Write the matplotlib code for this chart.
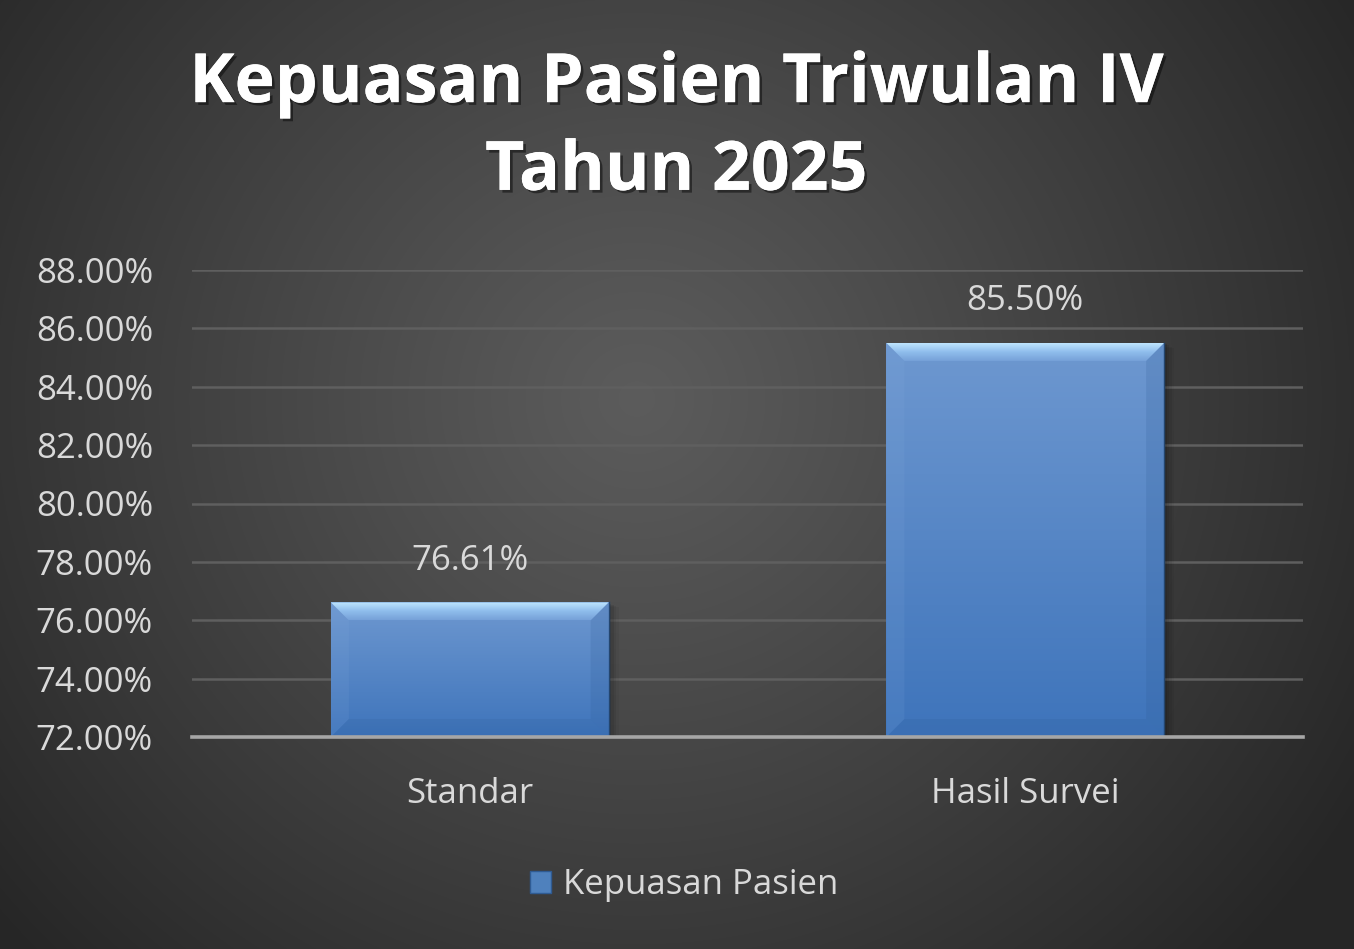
import numpy as np
import matplotlib
matplotlib.use("Agg")
import matplotlib.pyplot as plt
from matplotlib.patches import Polygon, Patch
from matplotlib.colors import LinearSegmentedColormap
import matplotlib.patheffects as pe

# ---- data ----
categories = ["Standar", "Hasil Survei"]
values = [76.61, 85.50]
series_name = "Kepuasan Pasien"
title = "Kepuasan Pasien Triwulan IV\nTahun 2025"
y_min, y_max, y_step = 72.0, 88.0, 2.0

FONT = "Open Sans"
TXT = "#d9d9d9"

W, H, DPI = 1354, 949, 100
fig = plt.figure(figsize=(W / DPI, H / DPI), dpi=DPI)

# ---- radial gradient background ----
bg = fig.add_axes([0, 0, 1, 1], zorder=-10)
bg.set_axis_off()
yy, xx = np.mgrid[0:H, 0:W]
cx, cy = 0.47 * W, 0.42 * H
r = np.sqrt(((xx - cx) / (0.62 * W)) ** 2 + ((yy - cy) / (0.85 * H)) ** 2)
r = np.clip(r, 0, 1)
c_in, c_out = 0.36, 0.15
g = c_in + (c_out - c_in) * r ** 1.1
bg.imshow(np.dstack([g, g, g]), extent=(0, 1, 0, 1), aspect="auto", origin="upper")
bg.set_xlim(0, 1); bg.set_ylim(0, 1)

# ---- main axes ----
ax = fig.add_axes([192 / W, 1 - 737 / H, (1303 - 192) / W, (737 - 270) / H])
ax.set_facecolor("none")
x = np.arange(len(categories))
bars = ax.bar(x, values, width=0.5, bottom=0, color="#4f81bd", zorder=3, linewidth=0)
ax.set_xlim(-0.5, len(categories) - 0.5)
ax.set_ylim(y_min, y_max)
yt = np.arange(y_min, y_max + 0.001, y_step)
ax.set_yticks(yt)
ax.set_yticklabels([f"{v:.2f}%" for v in yt], fontsize=25, color=TXT, family=FONT)
ax.set_xticks(x)
ax.set_xticklabels(categories, fontsize=25, color=TXT, family=FONT)
ax.tick_params(axis="both", length=0)
ax.tick_params(axis="y", pad=28)
ax.tick_params(axis="x", pad=29)
for s in ["top", "right", "left"]:
    ax.spines[s].set_visible(False)
ax.spines["bottom"].set_color("#a6a6a6")
ax.spines["bottom"].set_linewidth(2.6)
ax.spines["bottom"].set_zorder(6)
ax.yaxis.grid(True, color="#5f5f5f", linewidth=1.8, zorder=0)
ax.set_axisbelow(True)

# ---- bevel/gradient styling of bars ----
fig.canvas.draw()
ppx = ax.transData.transform((1, 0))[0] - ax.transData.transform((0, 0))[0]
ppy = ax.transData.transform((0, 1))[1] - ax.transData.transform((0, 0))[1]
bev = 18
bdx, bdy = bev / ppx, bev / ppy
top_c, bot_c = "#6e98d0", "#3e74bb"
cmap_body = LinearSegmentedColormap.from_list("body", [bot_c, top_c])
cmap_top = LinearSegmentedColormap.from_list("topb", ["#76a1d8", "#8fbdec", "#bfe6ff"])
for b in bars:
    x0, y0 = b.get_x(), y_min
    x1, y1 = x0 + b.get_width(), b.get_height()
    b.set_y(y_min); b.set_height(y1 - y_min)
    # drop shadow
    for k, a in enumerate([0.10, 0.08, 0.06, 0.04]):
        off = (k + 1) * 2.5 / ppx
        ax.add_patch(plt.Rectangle((x0 + off, y0), x1 - x0, (y1 - y0) - 0.5 * off * ppx / ppy,
                                   facecolor="black", alpha=a, lw=0, zorder=2))
    grad = np.linspace(0, 1, 256).reshape(-1, 1)
    im = ax.imshow(grad, extent=(x0, x1, y0, y1), aspect="auto", origin="lower",
                   cmap=cmap_body, zorder=3.5)
    im.set_clip_path(b)
    # top bevel with gradient
    topb = Polygon([(x0, y1), (x1, y1), (x1 - bdx, y1 - bdy), (x0 + bdx, y1 - bdy)],
                   closed=True, facecolor="none", lw=0, zorder=4)
    ax.add_patch(topb)
    im2 = ax.imshow(grad, extent=(x0, x1, y1 - bdy, y1), aspect="auto", origin="lower",
                    cmap=cmap_top, zorder=4)
    im2.set_clip_path(topb)
    # left bevel
    ax.add_patch(Polygon([(x0, y0), (x0, y1), (x0 + bdx, y1 - bdy), (x0 + bdx, y0 + bdy)],
                         closed=True, facecolor="#8ab0e0", alpha=0.12, lw=0, zorder=4))
    # right bevel
    ax.add_patch(Polygon([(x1, y0), (x1, y1), (x1 - bdx, y1 - bdy), (x1 - bdx, y0 + bdy)],
                         closed=True, facecolor="#2d5a94", alpha=0.18, lw=0, zorder=4))
    # bottom bevel
    ax.add_patch(Polygon([(x0, y0), (x1, y0), (x1 - bdx, y0 + bdy), (x0 + bdx, y0 + bdy)],
                         closed=True, facecolor="#2a5790", alpha=0.15, lw=0, zorder=4))
    # edge line
    ax.plot([x1, x1], [y0, y1], color="#24466f", lw=1.0, zorder=4.5)

# data labels
for xi, v in zip(x, values):
    ax.annotate(f"{v:.2f}%", (xi, v), xytext=(0, 30), textcoords="offset points",
                ha="center", va="center", fontsize=25, color=TXT, family=FONT, zorder=7)

# title
fig.text(676 / W, 1 - 128 / H, title, ha="center", va="center", fontsize=49,
         fontweight="bold", color="white", family=FONT, linespacing=1.38,
         path_effects=[pe.withSimplePatchShadow(offset=(2, -2), shadow_rgbFace="black", alpha=0.45),
                       pe.Normal()])

# legend
handle = Patch(facecolor="#4f81bd", edgecolor="#2f5b93", linewidth=1.0)
leg = fig.legend([handle], [series_name], loc="center", bbox_to_anchor=(684 / W, 1 - 885 / H),
                 frameon=False, handlelength=0.6, handleheight=0.6,
                 handletextpad=0.35, prop={"family": FONT, "size": 25})
for t in leg.get_texts():
    t.set_color(TXT)

fig.savefig("out.png", dpi=DPI)
